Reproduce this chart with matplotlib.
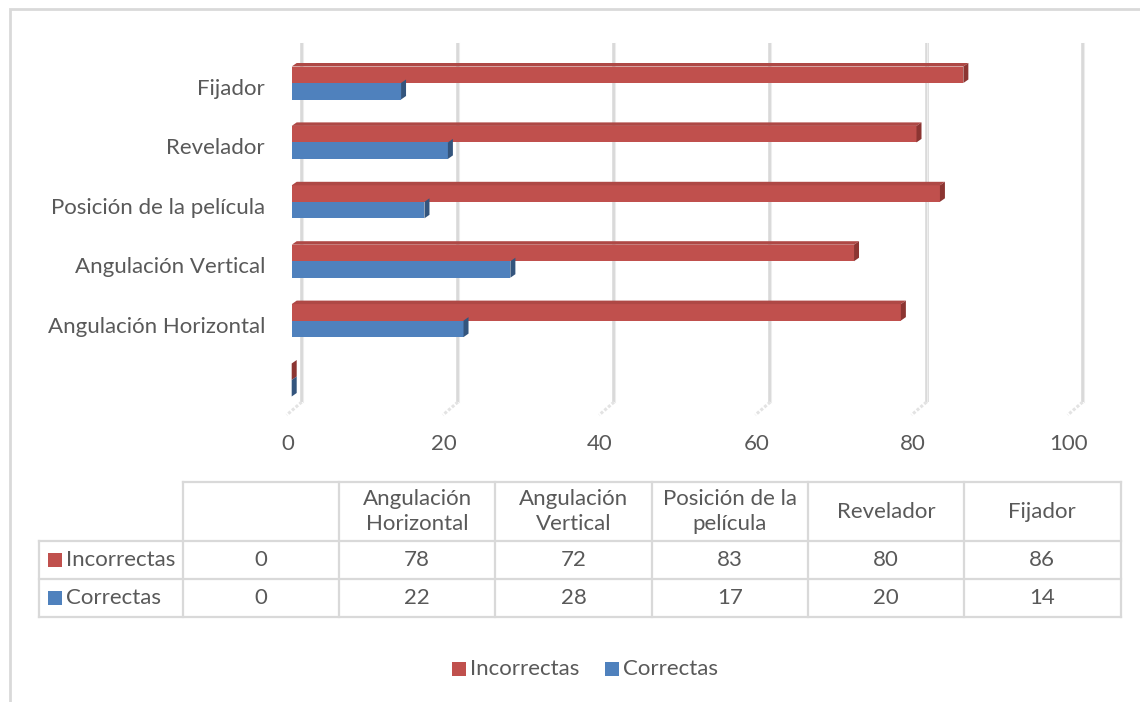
import textwrap
import matplotlib
matplotlib.use("Agg")
import matplotlib.pyplot as plt
from matplotlib.patches import Polygon, Rectangle

# ------------------------------------------------------------
# DATA
# ------------------------------------------------------------
categories = ["", "Angulación Horizontal", "Angulación Vertical",
              "Posición de la película", "Revelador", "Fijador"]
incorrectas = [0, 78, 72, 83, 80, 86]
correctas = [0, 22, 28, 17, 20, 14]
series_names = ["Incorrectas", "Correctas"]
x_ticks = [0, 20, 40, 60, 80, 100]

# ------------------------------------------------------------
# STYLE
# ------------------------------------------------------------
RED, RED_TOP, RED_SIDE = "#C0504D", "#AE4845", "#8C3532"
BLUE, BLUE_TOP, BLUE_SIDE = "#4F81BD", "#41699A", "#34557D"
TXT = "#595959"
GRID = "#D9D9D9"
FONT = "Lato"
FS = 16

W, H = 1140, 702
fig = plt.figure(figsize=(W / 100, H / 100), dpi=100)

# pixel geometry of the bar area
X0_PX, K_PX = 291.7, 7.81      # x=0 position and px per unit
Y0_PX, G_PX = 380.0, 59.4      # category 0 baseline and px per category
AX_L, AX_R, AX_T, AX_B = 270, 1100, 30, 430

ax = fig.add_axes([AX_L / W, 1 - AX_B / H, (AX_R - AX_L) / W, (AX_B - AX_T) / H])
ax.set_xlim((AX_L - X0_PX) / K_PX, (AX_R - X0_PX) / K_PX)
ax.set_ylim((Y0_PX - AX_B) / G_PX, (Y0_PX - AX_T) / G_PX)
ax.axis("off")

px_x = lambda p: p / K_PX
px_y = lambda p: p / G_PX

# back wall gridlines with floor marks
wall_dx = px_x(10)
for t in x_ticks:
    gx = t + wall_dx
    ax.plot([gx, gx], [px_y(Y0_PX - 402), px_y(Y0_PX - 43)], color=GRID, lw=2.6,
            solid_capstyle="butt", zorder=1, clip_on=False)
    ax.plot([gx + px_x(0.8), gx + px_x(0.8)], [px_y(Y0_PX - 402), px_y(Y0_PX - 43)],
            color="#EDEDED", lw=0.8, zorder=1, clip_on=False)
    ax.plot([gx, gx - px_x(15)], [px_y(Y0_PX - 402), px_y(Y0_PX - 415)], color="#E3E3E3",
            lw=2.2, ls=(0, (1, 0.6)), zorder=1, clip_on=False)
    ax.text(t - px_x(4), px_y(Y0_PX - 444), str(t), ha="center", va="center",
            fontsize=FS, color=TXT, family=FONT, clip_on=False)

# 3D bars
h = px_y(16.5)
dx, dy = px_x(5), px_y(3.5)
pos = list(range(len(categories)))
ax.barh([p + h / 2 for p in pos], incorrectas, height=h, color=RED, zorder=3)
ax.barh([p - h / 2 for p in pos], correctas, height=h, color=BLUE, zorder=3)
for p, vr, vb in zip(pos, incorrectas, correctas):
    # top face of the red bar
    ax.add_patch(Polygon([(0, p + h), (vr, p + h), (vr + dx, p + h + dy), (dx, p + h + dy)],
                         closed=True, color=RED_TOP, lw=0, zorder=3))
    # end faces
    ax.add_patch(Polygon([(vr, p), (vr, p + h), (vr + dx, p + h + dy), (vr + dx, p + dy)],
                         closed=True, color=RED_SIDE, lw=0, zorder=4))
    ax.add_patch(Polygon([(vb, p - h), (vb, p), (vb + dx, p + dy), (vb + dx, p - h + dy)],
                         closed=True, color=BLUE_SIDE, lw=0, zorder=4))
    ax.text(px_x(265 - X0_PX), p - px_y(6), categories[p], ha="right", va="center",
            fontsize=FS, color=TXT, family=FONT, clip_on=False)

# ------------------------------------------------------------
# OVERLAY (pixel coordinates): border, data table, legend
# ------------------------------------------------------------
ov = fig.add_axes([0, 0, 1, 1], zorder=-1)
ov.set_xlim(0, W)
ov.set_ylim(H, 0)
ov.axis("off")

# chart frame
ov.plot([10, 10, W + 5], [H + 5, 9, 9], color=GRID, lw=2, solid_joinstyle="miter")

TL, TC0, TW = 39, 182.7, 156.3
ROWS = [482.3, 540.7, 578.7, 616.7]
ncol = len(categories)
col_x = [TC0 + i * TW for i in range(ncol + 1)]
LINE = dict(color="#D9D9D9", lw=1.6, solid_capstyle="projecting")

# horizontal lines
ov.plot([TC0, col_x[-1]], [ROWS[0]] * 2, **LINE)
for y in ROWS[1:]:
    ov.plot([TL, col_x[-1]], [y, y], **LINE)
# vertical lines
ov.plot([TL, TL], [ROWS[1], ROWS[3]], **LINE)
for x in col_x:
    ov.plot([x, x], [ROWS[0], ROWS[3]], **LINE)

for i, cat in enumerate(categories):
    cx = (col_x[i] + col_x[i + 1]) / 2
    ov.text(cx, (ROWS[0] + ROWS[1]) / 2, textwrap.fill(cat, 14), ha="center", va="center",
            fontsize=FS, color=TXT, family=FONT, linespacing=1.27)
    ov.text(cx, (ROWS[1] + ROWS[2]) / 2, str(incorrectas[i]), ha="center", va="center",
            fontsize=FS, color=TXT, family=FONT)
    ov.text(cx, (ROWS[2] + ROWS[3]) / 2, str(correctas[i]), ha="center", va="center",
            fontsize=FS, color=TXT, family=FONT)

for r, (name, col) in enumerate(zip(series_names, [RED, BLUE])):
    yc = (ROWS[r + 1] + ROWS[r + 2]) / 2
    ov.add_patch(Rectangle((48, yc - 7), 14, 14, color=col, lw=0))
    ov.text(66, yc, name, ha="left", va="center", fontsize=FS, color=TXT, family=FONT)

# legend
for name, col, sx in zip(series_names, [RED, BLUE], [451.7, 605]):
    ov.add_patch(Rectangle((sx, 661.7), 14, 14, color=col, lw=0))
    ov.text(sx + 18, 668.7, name, ha="left", va="center", fontsize=FS, color=TXT, family=FONT)

fig.savefig("out.png", dpi=100, facecolor="white")
